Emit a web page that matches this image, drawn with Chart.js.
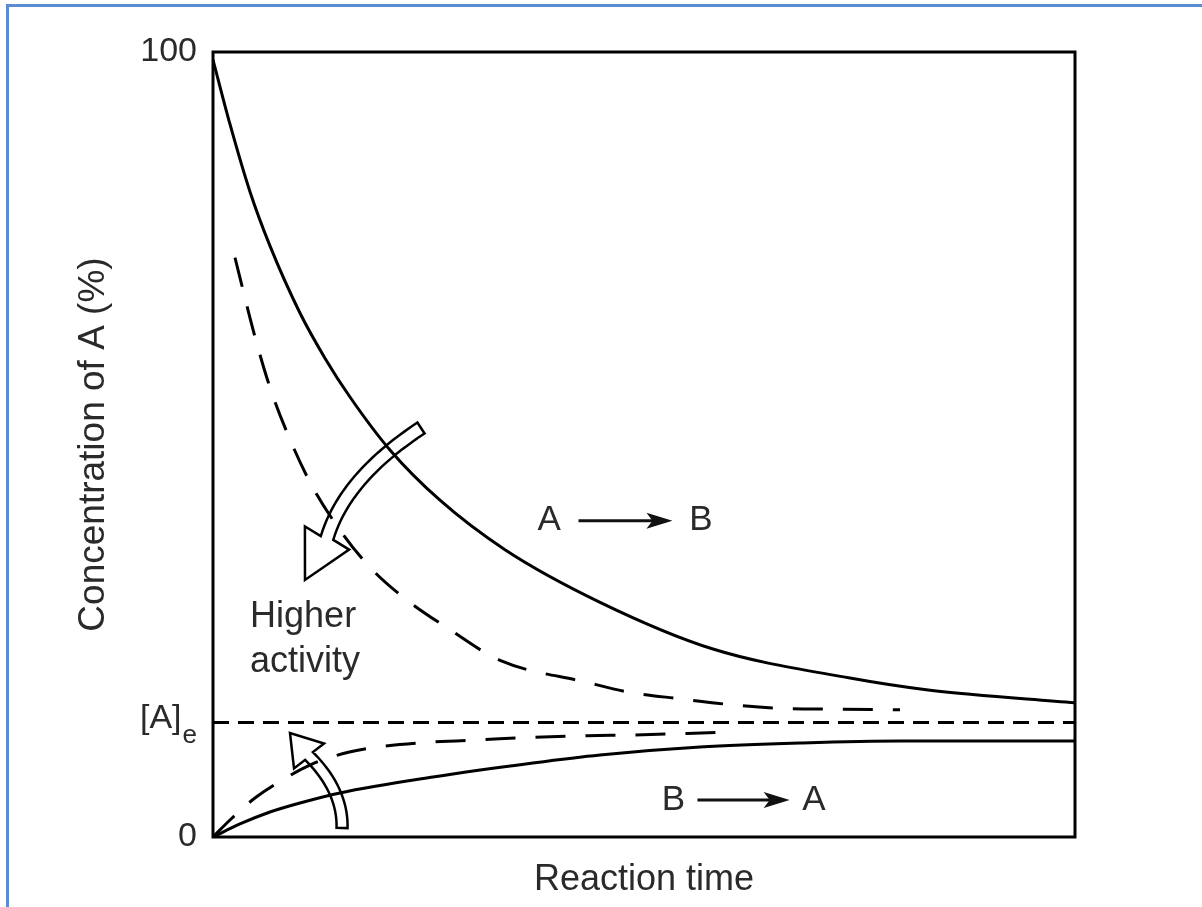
<!DOCTYPE html>
<html>
<head>
<meta charset="utf-8">
<script src="https://cdn.jsdelivr.net/npm/chart.js@4.4.0/dist/chart.umd.min.js"></script>
<style>
  html, body { margin: 0; padding: 0; background: #fff; }
  #wrap { position: relative; width: 1202px; height: 907px; overflow: hidden; }
  #chart { position: absolute; left: 0; top: 0; }
  #frame { position: absolute; left: 6px; top: 4px; width: 1400px; height: 1100px;
           border-left: 3px solid #5b8bd3; border-top: 3px solid #5b8bd3; }
</style>
</head>
<body>
<div id="wrap">
  <canvas id="chart" width="1202" height="907"></canvas>
  <div id="frame"></div>
</div>
<script>
// axis ticks
var yTickValues = [0, 100];
var yTickLabels = ['0', '100'];
var eqLevel = 14.6;

// A -> B, normal catalyst (solid)
var fwdTime = [0, 1.97, 4.29, 6.61, 10.09, 12.99, 15.89, 20.53, 26.33, 33.87, 44.9, 58.0, 73.9, 83.18, 100];
var fwdConc = [99, 90.8, 82.2, 75.3, 66.75, 61.0, 56.05, 49.3, 42.9, 36.6, 29.9, 23.95, 20.25, 18.7, 17.1];

// A -> B, higher activity (dashed)
var fwdFastTime = [2.55, 4.9, 6.6, 8.6, 11.25, 14.15, 18, 22, 27.5, 33.3, 43.4, 48, 54.2, 59.7, 65.8, 71.8, 79.7];
var fwdFastConc = [73.8, 63.6, 57.3, 51.5, 45.2, 40, 34.6, 30.6, 26.4, 22.5, 19.7, 18.5, 17.6, 16.9, 16.4, 16.3, 16.2];

// B -> A, higher activity (dashed)
var revFastTime = [0, 2, 4.9, 8.1, 11.3, 15.7, 19.4, 25.5, 31.3, 37.1, 43.4, 49, 55, 60.6];
var revFastConc = [0, 2.2, 5.0, 7.3, 9.2, 10.8, 11.5, 12.1, 12.4, 12.7, 12.9, 13.0, 13.2, 13.4];

// B -> A, normal catalyst (solid)
var revTime = [0, 3.13, 6.61, 10.09, 14.73, 25.52, 37.12, 44.9, 56.5, 68.1, 79.7, 100];
var revConc = [0, 1.66, 3.18, 4.33, 5.61, 7.64, 9.43, 10.45, 11.46, 11.97, 12.23, 12.23];

var FONT = '"Liberation Sans", Arial, sans-serif';
var TXT = '#2a2a2a';

function pts(ts, vs) {
    return ts.map(function(t, i) { return {x: t, y: vs[i]}; });
}

// hollow curved arrows, in data units
var bigArrows = [
    {tail: [24.13, 52.1], ctrl: [15.31, 45.73], end: [13.23, 38.09], tip: [10.67, 32.74], w: 13, hw: 25},
    {tail: [14.97, 1.15], ctrl: [15.08, 5.99], end: [11.14, 10.32], tip: [8.93, 13.25], w: 11, hw: 19.5}
];

// reaction labels
var rxnLabels = [
    {a: 'A', b: 'B', ta: 39.0, tb: 56.6, from: 42.4, to: 53.3, v: 40.3},
    {a: 'B', b: 'A', ta: 53.4, tb: 69.7, from: 56.2, to: 66.9, v: 4.7}
];

var annot = {
    id: 'annot',
    afterDatasetsDraw: function(chart) {
        var ctx = chart.ctx, xs = chart.scales.x, ys = chart.scales.y, a = chart.chartArea;
        function px(t) { return xs.getPixelForValue(t); }
        function py(v) { return ys.getPixelForValue(v); }
        ctx.save();

        // box
        ctx.strokeStyle = '#000';
        ctx.lineWidth = 3;
        ctx.strokeRect(a.left, a.top, a.right - a.left, a.bottom - a.top);

        // [A]e label
        var ye = py(eqLevel);
        ctx.fillStyle = TXT;
        ctx.font = '26px ' + FONT;
        var ew = ctx.measureText('e').width;
        ctx.textAlign = 'right';
        ctx.textBaseline = 'alphabetic';
        ctx.fillText('e', a.left - 16, ye + 21);
        ctx.font = '34px ' + FONT;
        ctx.textBaseline = 'middle';
        ctx.fillText('[A]', a.left - 17 - ew, ye - 4);

        // Higher activity
        ctx.font = '36px ' + FONT;
        ctx.textAlign = 'left';
        ctx.fillText('Higher', px(4.3), py(28.0));
        ctx.fillText('activity', px(4.3), py(22.3));

        // reaction labels
        ctx.font = '35px ' + FONT;
        rxnLabels.forEach(function(r) {
            var y = py(r.v);
            ctx.fillStyle = TXT;
            ctx.textAlign = 'center';
            ctx.fillText(r.a, px(r.ta), y);
            ctx.fillText(r.b, px(r.tb), y);
            var x0 = px(r.from), x1 = px(r.to);
            ctx.strokeStyle = '#111';
            ctx.fillStyle = '#111';
            ctx.lineWidth = 3;
            ctx.beginPath();
            ctx.moveTo(x0, y);
            ctx.lineTo(x1 - 12, y);
            ctx.stroke();
            ctx.beginPath();
            ctx.moveTo(x1, y);
            ctx.lineTo(x1 - 26, y - 8);
            ctx.lineTo(x1 - 20, y);
            ctx.lineTo(x1 - 26, y + 8);
            ctx.closePath();
            ctx.fill();
        });

        // big hollow arrows
        ctx.strokeStyle = '#000';
        ctx.lineWidth = 2.5;
        ctx.lineJoin = 'miter';
        bigArrows.forEach(function(ar) {
            var p0 = [px(ar.tail[0]), py(ar.tail[1])];
            var c = [px(ar.ctrl[0]), py(ar.ctrl[1])];
            var p1 = [px(ar.end[0]), py(ar.end[1])];
            var tip = [px(ar.tip[0]), py(ar.tip[1])];
            var left = [], right = [], n = 24;
            for (var i = 0; i <= n; i++) {
                var s = i / n, u = 1 - s;
                var x = u * u * p0[0] + 2 * u * s * c[0] + s * s * p1[0];
                var y = u * u * p0[1] + 2 * u * s * c[1] + s * s * p1[1];
                var dx = 2 * u * (c[0] - p0[0]) + 2 * s * (p1[0] - c[0]);
                var dy = 2 * u * (c[1] - p0[1]) + 2 * s * (p1[1] - c[1]);
                var l = Math.hypot(dx, dy);
                var nx = -dy / l, ny = dx / l;
                left.push([x + nx * ar.w / 2, y + ny * ar.w / 2]);
                right.push([x - nx * ar.w / 2, y - ny * ar.w / 2]);
            }
            var hx = tip[0] - p1[0], hy = tip[1] - p1[1], hl = Math.hypot(hx, hy);
            var hnx = -hy / hl, hny = hx / hl;
            ctx.beginPath();
            ctx.moveTo(left[0][0], left[0][1]);
            left.forEach(function(q) { ctx.lineTo(q[0], q[1]); });
            ctx.lineTo(p1[0] + hnx * ar.hw, p1[1] + hny * ar.hw);
            ctx.lineTo(tip[0], tip[1]);
            ctx.lineTo(p1[0] - hnx * ar.hw, p1[1] - hny * ar.hw);
            for (var k = right.length - 1; k >= 0; k--) ctx.lineTo(right[k][0], right[k][1]);
            ctx.closePath();
            ctx.stroke();
        });

        ctx.restore();
    }
};

function lineSet(data, dash, width) {
    return {
        data: data,
        borderColor: '#000',
        borderWidth: width,
        borderDash: dash,
        pointRadius: 0,
        fill: false,
        cubicInterpolationMode: 'monotone'
    };
}

const data = {
    datasets: [
        lineSet(pts(fwdTime, fwdConc), [], 3),
        lineSet(pts(fwdFastTime, fwdFastConc), [30, 20], 3),
        lineSet([{x: 0, y: eqLevel}, {x: 100, y: eqLevel}], [16, 9], 3),
        lineSet(pts(revFastTime, revFastConc), [30, 20], 3),
        lineSet(pts(revTime, revConc), [], 3)
    ]
};

const config = {
    type: 'line',
    data: data,
    options: {
        responsive: false,
        animation: false,
        layout: { padding: { left: 58, right: 127, top: 52, bottom: 0 } },
        plugins: {
            legend: { display: false },
            tooltip: { enabled: false }
        },
        scales: {
            x: {
                type: 'linear',
                min: 0,
                max: 100,
                grid: { display: false, drawTicks: false },
                border: { display: false },
                ticks: { display: false },
                title: {
                    display: true,
                    text: 'Reaction time',
                    color: TXT,
                    font: { family: FONT, size: 36 },
                    padding: { top: 0, bottom: 5 }
                },
                afterFit: function(s) { s.height = 70; }
            },
            y: {
                min: 0,
                max: 100,
                afterBuildTicks: function(ax) {
                    ax.ticks = yTickValues.map(function(v) { return {value: v}; });
                },
                grid: { display: false, drawTicks: false },
                border: { display: false },
                ticks: {
                    padding: 16,
                    color: TXT,
                    font: { family: FONT, size: 34 },
                    callback: function(v) {
                        var i = yTickValues.indexOf(v);
                        return i >= 0 ? yTickLabels[i] : '';
                    }
                },
                title: {
                    display: true,
                    text: 'Concentration of A (%)',
                    color: TXT,
                    font: { family: FONT, size: 37 },
                    padding: { top: 14, bottom: 0 }
                },
                afterFit: function(s) { s.width = 155; }
            }
        }
    },
    plugins: [annot]
};

const myChart = new Chart(document.getElementById('chart'), config);
</script>
</body>
</html>
